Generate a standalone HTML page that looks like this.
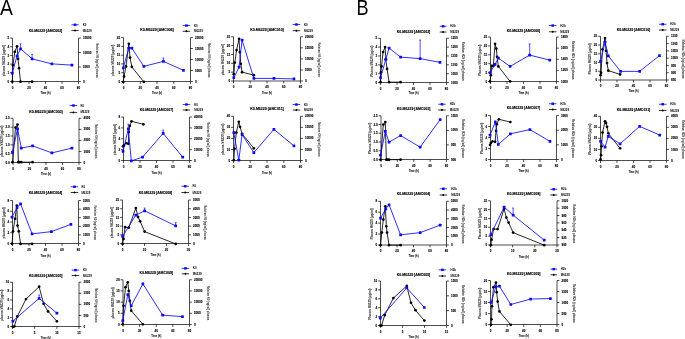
<!DOCTYPE html>
<html><head><meta charset="utf-8"><title>Figure</title>
<style>
html,body{margin:0;padding:0;background:#fff;}
body{width:685px;height:339px;overflow:hidden;font-family:"Liberation Sans",sans-serif;}
svg{display:block;will-change:transform;}
</style></head><body>
<svg width="685" height="339" viewBox="0 0 685 339" font-family="Liberation Sans, sans-serif" font-size="3.0" font-weight="bold" fill="#000" stroke-linejoin="round"><style>text{stroke:#000;stroke-width:0.1px;paint-order:stroke}</style><rect width="685" height="339" fill="#fff"/><text transform="translate(0.03 14.55) scale(0.9 1)" font-size="21.5" font-weight="normal" style="stroke:none">A</text><text transform="translate(356.5 14.65) scale(0.85 1)" font-size="21.3" font-weight="normal" style="stroke:none">B</text><g><path d="M12.5 38.06V81.5" stroke="#000" stroke-width="0.7"/><path d="M12.5 81.5H78.5" stroke="#000" stroke-width="0.7"/><path d="M78.5 38.06V81.5" stroke="#000" stroke-width="0.7"/><path d="M10.1 81.5H12.5M10.1 72.81H12.5M10.1 64.12H12.5M10.1 55.43H12.5M10.1 46.75H12.5M10.1 38.06H12.5" stroke="#000" stroke-width="0.7"/><text x="9.2" y="82.58" text-anchor="end">0</text><text x="9.2" y="73.89" text-anchor="end">1</text><text x="9.2" y="65.2" text-anchor="end">2</text><text x="9.2" y="56.51" text-anchor="end">3</text><text x="9.2" y="47.83" text-anchor="end">4</text><text x="9.2" y="39.14" text-anchor="end">5</text><text x="83" y="82.58">0</text><text x="83" y="68.1">5000</text><text x="83" y="53.62">10000</text><text x="83" y="39.14">15000</text><path d="M78.5 81.5H80.9M78.5 67.02H80.9M78.5 52.54H80.9M78.5 38.06H80.9" stroke="#000" stroke-width="0.7"/><text x="12.5" y="88.58" text-anchor="middle">0</text><text x="29" y="88.58" text-anchor="middle">20</text><text x="45.5" y="88.58" text-anchor="middle">40</text><text x="62" y="88.58" text-anchor="middle">60</text><text x="78.5" y="88.58" text-anchor="middle">80</text><path d="M12.5 81.5V83.9M29 81.5V83.9M45.5 81.5V83.9M62 81.5V83.9M78.5 81.5V83.9" stroke="#000" stroke-width="0.7"/><text x="45.5" y="93.9" text-anchor="middle" font-size="2.8" textLength="10" lengthAdjust="spacingAndGlyphs" style="stroke-width:0.04px">Time (h)</text><text x="45.5" y="32.01" text-anchor="middle" font-weight="bold" font-size="3.4" textLength="33.6" lengthAdjust="spacingAndGlyphs" style="stroke-width:0.12px">K0-M6229 [AMC002]</text><text transform="translate(4.03 60.58) rotate(-90)" text-anchor="middle" y="0.9" font-size="2.6" fill="#444" style="stroke:#444;stroke-width:0.06px" textLength="31.3" lengthAdjust="spacingAndGlyphs">plasma M6229 (μg/ml)</text><text transform="translate(97.04 60.58) rotate(90)" text-anchor="middle" y="0.9" font-size="2.6" fill="#444" style="stroke:#444;stroke-width:0.06px" textLength="34.5" lengthAdjust="spacingAndGlyphs">Relative K0 (ng/ml) plasma</text><path d="M71.43 24.77H78.7" stroke="#0a0aff" stroke-width="0.8"/><rect x="73.76" y="23.57" width="2.6" height="2.4" fill="#0a0aff"/><text x="82.71" y="25.85" style="stroke:none" font-size="2.9">K0</text><path d="M71.43 30.54H78.7" stroke="#000" stroke-width="0.8"/><circle cx="75.06" cy="30.54" r="1"/><text x="82.71" y="31.62" style="stroke:none" font-size="2.9">M6229</text><polyline fill="none" stroke="#000" stroke-width="0.85" points="12.28,81.67 13.03,65.13 14.79,51.84 17.04,46.33 18.05,58.86 19.05,68.13 20.55,81.67 32.08,81.67"/><circle cx="12.28" cy="81.67" r="1.35"/><circle cx="13.03" cy="65.13" r="1.35"/><circle cx="14.79" cy="51.84" r="1.35"/><circle cx="17.04" cy="46.33" r="1.35"/><circle cx="18.05" cy="58.86" r="1.35"/><circle cx="19.05" cy="68.13" r="1.35"/><circle cx="20.55" cy="81.67" r="1.35"/><circle cx="32.08" cy="81.67" r="1.35"/><path d="M20.55 48.83V43.82M19.65 43.82H21.45" stroke="#0a0aff" stroke-width="0.7"/><path d="M32.08 58.86V54.35M31.18 54.35H32.98" stroke="#0a0aff" stroke-width="0.7"/><polyline fill="none" stroke="#0a0aff" stroke-width="0.85" points="12.28,73.15 17.04,55.85 20.55,48.83 32.08,58.86 51.88,63.87 71.93,65.13"/><rect x="10.93" y="71.8" width="2.7" height="2.7" rx="0.5" fill="#0a0aff"/><rect x="15.69" y="54.5" width="2.7" height="2.7" rx="0.5" fill="#0a0aff"/><rect x="19.2" y="47.48" width="2.7" height="2.7" rx="0.5" fill="#0a0aff"/><rect x="30.73" y="57.51" width="2.7" height="2.7" rx="0.5" fill="#0a0aff"/><rect x="50.53" y="62.52" width="2.7" height="2.7" rx="0.5" fill="#0a0aff"/><rect x="70.58" y="63.78" width="2.7" height="2.7" rx="0.5" fill="#0a0aff"/></g>
<g><path d="M123.5 37.56V81.5" stroke="#000" stroke-width="0.7"/><path d="M123.5 81.5H190.5" stroke="#000" stroke-width="0.7"/><path d="M190.5 37.56V81.5" stroke="#000" stroke-width="0.7"/><path d="M121.1 81.5H123.5M121.1 72.71H123.5M121.1 63.92H123.5M121.1 55.13H123.5M121.1 46.35H123.5M121.1 37.56H123.5" stroke="#000" stroke-width="0.7"/><text x="120.2" y="82.58" text-anchor="end">0</text><text x="120.2" y="73.79" text-anchor="end">5</text><text x="120.2" y="65" text-anchor="end">10</text><text x="120.2" y="56.21" text-anchor="end">15</text><text x="120.2" y="47.43" text-anchor="end">20</text><text x="120.2" y="38.64" text-anchor="end">25</text><text x="195" y="82.58">0</text><text x="195" y="71.59">5000</text><text x="195" y="60.61">10000</text><text x="195" y="49.62">15000</text><text x="195" y="38.64">20000</text><path d="M190.5 81.5H192.9M190.5 70.51H192.9M190.5 59.53H192.9M190.5 48.54H192.9M190.5 37.56H192.9" stroke="#000" stroke-width="0.7"/><text x="123.5" y="88.58" text-anchor="middle">0</text><text x="140.25" y="88.58" text-anchor="middle">20</text><text x="157" y="88.58" text-anchor="middle">40</text><text x="173.75" y="88.58" text-anchor="middle">60</text><text x="190.5" y="88.58" text-anchor="middle">80</text><path d="M123.5 81.5V83.9M140.25 81.5V83.9M157 81.5V83.9M173.75 81.5V83.9M190.5 81.5V83.9" stroke="#000" stroke-width="0.7"/><text x="157" y="94.4" text-anchor="middle" font-size="2.8" textLength="10" lengthAdjust="spacingAndGlyphs" style="stroke-width:0.04px">Time (h)</text><text x="157" y="31.26" text-anchor="middle" font-weight="bold" font-size="3.4" textLength="33.6" lengthAdjust="spacingAndGlyphs" style="stroke-width:0.12px">K0-M6229 [AMC006]</text><text transform="translate(113.36 60.33) rotate(-90)" text-anchor="middle" y="0.9" font-size="2.6" fill="#444" style="stroke:#444;stroke-width:0.06px" textLength="31.3" lengthAdjust="spacingAndGlyphs">plasma M6229 (μg/ml)</text><text transform="translate(209.04 60.33) rotate(90)" text-anchor="middle" y="0.9" font-size="2.6" fill="#444" style="stroke:#444;stroke-width:0.06px" textLength="34.5" lengthAdjust="spacingAndGlyphs">Relative K0 (ng/ml) plasma</text><path d="M182.69 25.53H190.21" stroke="#0a0aff" stroke-width="0.8"/><rect x="185.15" y="24.33" width="2.6" height="2.4" fill="#0a0aff"/><text x="193.97" y="26.61" style="stroke:none" font-size="2.9">K0</text><path d="M182.69 31.29H190.21" stroke="#000" stroke-width="0.8"/><circle cx="186.45" cy="31.29" r="1"/><text x="193.97" y="32.37" style="stroke:none" font-size="2.9">M6229</text><polyline fill="none" stroke="#000" stroke-width="0.85" points="123.3,81.92 124.05,76.4 126.05,66.38 128.81,43.82 130.06,57.61 131.82,66.88 143.85,81.92"/><circle cx="123.3" cy="81.92" r="1.35"/><circle cx="124.05" cy="76.4" r="1.35"/><circle cx="126.05" cy="66.38" r="1.35"/><circle cx="128.81" cy="43.82" r="1.35"/><circle cx="130.06" cy="57.61" r="1.35"/><circle cx="131.82" cy="66.88" r="1.35"/><circle cx="143.85" cy="81.92" r="1.35"/><path d="M163.4 61.37V58.11M162.5 58.11H164.3" stroke="#0a0aff" stroke-width="0.7"/><polyline fill="none" stroke="#0a0aff" stroke-width="0.85" points="123.3,67.88 128.81,48.08 131.82,48.08 143.85,66.38 163.4,61.37 183.45,70.39"/><rect x="121.95" y="66.53" width="2.7" height="2.7" rx="0.5" fill="#0a0aff"/><rect x="127.46" y="46.73" width="2.7" height="2.7" rx="0.5" fill="#0a0aff"/><rect x="130.47" y="46.73" width="2.7" height="2.7" rx="0.5" fill="#0a0aff"/><rect x="142.5" y="65.03" width="2.7" height="2.7" rx="0.5" fill="#0a0aff"/><rect x="162.05" y="60.02" width="2.7" height="2.7" rx="0.5" fill="#0a0aff"/><rect x="182.1" y="69.04" width="2.7" height="2.7" rx="0.5" fill="#0a0aff"/></g>
<g><path d="M233.5 36.8V81" stroke="#000" stroke-width="0.7"/><path d="M233.5 81H300.5" stroke="#000" stroke-width="0.7"/><path d="M300.5 36.8V81" stroke="#000" stroke-width="0.7"/><path d="M231.1 81H233.5M231.1 72.16H233.5M231.1 63.32H233.5M231.1 54.48H233.5M231.1 45.64H233.5M231.1 36.8H233.5" stroke="#000" stroke-width="0.7"/><text x="230.2" y="82.08" text-anchor="end">0</text><text x="230.2" y="73.24" text-anchor="end">5</text><text x="230.2" y="64.4" text-anchor="end">10</text><text x="230.2" y="55.56" text-anchor="end">15</text><text x="230.2" y="46.72" text-anchor="end">20</text><text x="230.2" y="37.88" text-anchor="end">25</text><text x="305" y="82.08">0</text><text x="305" y="71.03">5000</text><text x="305" y="59.98">10000</text><text x="305" y="48.93">15000</text><text x="305" y="37.88">20000</text><path d="M300.5 81H302.9M300.5 69.95H302.9M300.5 58.9H302.9M300.5 47.85H302.9M300.5 36.8H302.9" stroke="#000" stroke-width="0.7"/><text x="233.5" y="88.08" text-anchor="middle">0</text><text x="250.25" y="88.08" text-anchor="middle">20</text><text x="267" y="88.08" text-anchor="middle">40</text><text x="283.75" y="88.08" text-anchor="middle">60</text><text x="300.5" y="88.08" text-anchor="middle">80</text><path d="M233.5 81V83.4M250.25 81V83.4M267 81V83.4M283.75 81V83.4M300.5 81V83.4" stroke="#000" stroke-width="0.7"/><text x="267" y="93.65" text-anchor="middle" font-size="2.8" textLength="10" lengthAdjust="spacingAndGlyphs" style="stroke-width:0.04px">Time (h)</text><text x="267" y="30.64" text-anchor="middle" font-weight="bold" font-size="3.4" textLength="33.6" lengthAdjust="spacingAndGlyphs" style="stroke-width:0.12px">K0-M6229 [AMC010]</text><text transform="translate(223.36 59.7) rotate(-90)" text-anchor="middle" y="0.9" font-size="2.6" fill="#444" style="stroke:#444;stroke-width:0.06px" textLength="31.3" lengthAdjust="spacingAndGlyphs">plasma M6229 (μg/ml)</text><text transform="translate(319.04 59.7) rotate(90)" text-anchor="middle" y="0.9" font-size="2.6" fill="#444" style="stroke:#444;stroke-width:0.06px" textLength="34.5" lengthAdjust="spacingAndGlyphs">Relative K0 (ng/ml) plasma</text><path d="M292.69 24.52H300.21" stroke="#0a0aff" stroke-width="0.8"/><rect x="295.15" y="23.32" width="2.6" height="2.4" fill="#0a0aff"/><text x="303.97" y="25.6" style="stroke:none" font-size="2.9">K0</text><path d="M292.69 30.66H300.21" stroke="#000" stroke-width="0.8"/><circle cx="296.45" cy="30.66" r="1"/><text x="303.97" y="31.74" style="stroke:none" font-size="2.9">M6229</text><polyline fill="none" stroke="#000" stroke-width="0.85" points="233.8,74.15 234.8,62.62 236.55,50.09 239.06,38.81 239.81,52.09 240.81,63.87 242.07,72.14 253.85,75.15"/><circle cx="233.8" cy="74.15" r="1.35"/><circle cx="234.8" cy="62.62" r="1.35"/><circle cx="236.55" cy="50.09" r="1.35"/><circle cx="239.06" cy="38.81" r="1.35"/><circle cx="239.81" cy="52.09" r="1.35"/><circle cx="240.81" cy="63.87" r="1.35"/><circle cx="242.07" cy="72.14" r="1.35"/><circle cx="253.85" cy="75.15" r="1.35"/><polyline fill="none" stroke="#0a0aff" stroke-width="0.85" points="233.8,77.66 239.06,67.13 242.07,40.06 253.85,78.41 273.9,78.41 293.95,78.91"/><rect x="232.45" y="76.31" width="2.7" height="2.7" rx="0.5" fill="#0a0aff"/><rect x="237.71" y="65.78" width="2.7" height="2.7" rx="0.5" fill="#0a0aff"/><rect x="240.72" y="38.71" width="2.7" height="2.7" rx="0.5" fill="#0a0aff"/><rect x="252.5" y="77.06" width="2.7" height="2.7" rx="0.5" fill="#0a0aff"/><rect x="272.55" y="77.06" width="2.7" height="2.7" rx="0.5" fill="#0a0aff"/><rect x="292.6" y="77.56" width="2.7" height="2.7" rx="0.5" fill="#0a0aff"/></g>
<g><path d="M13 118.3V162.5" stroke="#000" stroke-width="0.7"/><path d="M13 162.5H79" stroke="#000" stroke-width="0.7"/><path d="M79 118.3V162.5" stroke="#000" stroke-width="0.7"/><path d="M10.6 162.5H13M10.6 153.66H13M10.6 144.82H13M10.6 135.98H13M10.6 127.14H13M10.6 118.3H13" stroke="#000" stroke-width="0.7"/><text x="9.7" y="163.58" text-anchor="end">0.0</text><text x="9.7" y="154.74" text-anchor="end">0.5</text><text x="9.7" y="145.9" text-anchor="end">1.0</text><text x="9.7" y="137.06" text-anchor="end">1.5</text><text x="9.7" y="128.22" text-anchor="end">2.0</text><text x="9.7" y="119.38" text-anchor="end">2.5</text><text x="83.5" y="163.58">0</text><text x="83.5" y="152.53">1000</text><text x="83.5" y="141.48">2000</text><text x="83.5" y="130.43">3000</text><text x="83.5" y="119.38">4000</text><path d="M79 162.5H81.4M79 151.45H81.4M79 140.4H81.4M79 129.35H81.4M79 118.3H81.4" stroke="#000" stroke-width="0.7"/><text x="13" y="169.58" text-anchor="middle">0</text><text x="29.5" y="169.58" text-anchor="middle">20</text><text x="46" y="169.58" text-anchor="middle">40</text><text x="62.5" y="169.58" text-anchor="middle">60</text><text x="79" y="169.58" text-anchor="middle">80</text><path d="M13 162.5V164.9M29.5 162.5V164.9M46 162.5V164.9M62.5 162.5V164.9M79 162.5V164.9" stroke="#000" stroke-width="0.7"/><text x="46" y="174.89" text-anchor="middle" font-size="2.8" textLength="10" lengthAdjust="spacingAndGlyphs" style="stroke-width:0.04px">Time (h)</text><text x="46" y="113" text-anchor="middle" font-weight="bold" font-size="3.4" textLength="33.6" lengthAdjust="spacingAndGlyphs" style="stroke-width:0.12px">K0-M6229 [AMC003]</text><text transform="translate(2.03 141.2) rotate(-90)" text-anchor="middle" y="0.9" font-size="2.6" fill="#444" style="stroke:#444;stroke-width:0.06px" textLength="31.3" lengthAdjust="spacingAndGlyphs">plasma M6229 (μg/ml)</text><text transform="translate(95.87 141.2) rotate(90)" text-anchor="middle" y="0.9" font-size="2.6" fill="#444" style="stroke:#444;stroke-width:0.06px" textLength="34.5" lengthAdjust="spacingAndGlyphs">Relative K0 (ng/ml) plasma</text><path d="M69.67 105.51H77.19" stroke="#0a0aff" stroke-width="0.8"/><rect x="72.13" y="104.31" width="2.6" height="2.4" fill="#0a0aff"/><text x="80.45" y="106.59" style="stroke:none" font-size="2.9">K0</text><path d="M69.67 112.41H77.19" stroke="#000" stroke-width="0.8"/><circle cx="73.43" cy="112.41" r="1"/><text x="80.45" y="113.49" style="stroke:none" font-size="2.9">M6229</text><polyline fill="none" stroke="#000" stroke-width="0.85" points="12.53,162.16 15.54,127.57 17.54,124.56 18.3,162.16 19.55,162.16 21.3,162.16 32.58,162.16"/><circle cx="12.53" cy="162.16" r="1.35"/><circle cx="15.54" cy="127.57" r="1.35"/><circle cx="17.54" cy="124.56" r="1.35"/><circle cx="18.3" cy="162.16" r="1.35"/><circle cx="19.55" cy="162.16" r="1.35"/><circle cx="21.3" cy="162.16" r="1.35"/><circle cx="32.58" cy="162.16" r="1.35"/><polyline fill="none" stroke="#0a0aff" stroke-width="0.85" points="12.53,152.13 17.54,128.82 21.3,148.12 32.58,145.86 51.88,152.88 71.93,148.12"/><rect x="11.18" y="150.78" width="2.7" height="2.7" rx="0.5" fill="#0a0aff"/><rect x="16.19" y="127.47" width="2.7" height="2.7" rx="0.5" fill="#0a0aff"/><rect x="19.95" y="146.77" width="2.7" height="2.7" rx="0.5" fill="#0a0aff"/><rect x="31.23" y="144.51" width="2.7" height="2.7" rx="0.5" fill="#0a0aff"/><rect x="50.53" y="151.53" width="2.7" height="2.7" rx="0.5" fill="#0a0aff"/><rect x="70.58" y="146.77" width="2.7" height="2.7" rx="0.5" fill="#0a0aff"/></g>
<g><path d="M123.5 117.04V160.5" stroke="#000" stroke-width="0.7"/><path d="M123.5 160.5H189.5" stroke="#000" stroke-width="0.7"/><path d="M189.5 117.04V160.5" stroke="#000" stroke-width="0.7"/><path d="M121.1 160.5H123.5M121.1 149.64H123.5M121.1 138.77H123.5M121.1 127.91H123.5M121.1 117.04H123.5" stroke="#000" stroke-width="0.7"/><text x="120.2" y="161.58" text-anchor="end">0</text><text x="120.2" y="150.72" text-anchor="end">2</text><text x="120.2" y="139.85" text-anchor="end">4</text><text x="120.2" y="128.99" text-anchor="end">6</text><text x="120.2" y="118.12" text-anchor="end">8</text><text x="194" y="161.58">0</text><text x="194" y="150.72">10000</text><text x="194" y="139.85">20000</text><text x="194" y="128.99">30000</text><text x="194" y="118.12">40000</text><path d="M189.5 160.5H191.9M189.5 149.64H191.9M189.5 138.77H191.9M189.5 127.91H191.9M189.5 117.04H191.9" stroke="#000" stroke-width="0.7"/><text x="123.5" y="167.58" text-anchor="middle">0</text><text x="140" y="167.58" text-anchor="middle">20</text><text x="156.5" y="167.58" text-anchor="middle">40</text><text x="173" y="167.58" text-anchor="middle">60</text><text x="189.5" y="167.58" text-anchor="middle">80</text><path d="M123.5 160.5V162.9M140 160.5V162.9M156.5 160.5V162.9M173 160.5V162.9M189.5 160.5V162.9" stroke="#000" stroke-width="0.7"/><text x="156.5" y="173.64" text-anchor="middle" font-size="2.8" textLength="10" lengthAdjust="spacingAndGlyphs" style="stroke-width:0.04px">Time (h)</text><text x="156.5" y="111.25" text-anchor="middle" font-weight="bold" font-size="3.4" textLength="33.6" lengthAdjust="spacingAndGlyphs" style="stroke-width:0.12px">K0-M6229 [AMC007]</text><text transform="translate(115.03 139.57) rotate(-90)" text-anchor="middle" y="0.9" font-size="2.6" fill="#444" style="stroke:#444;stroke-width:0.06px" textLength="31.3" lengthAdjust="spacingAndGlyphs">plasma M6229 (μg/ml)</text><text transform="translate(208.04 139.57) rotate(90)" text-anchor="middle" y="0.9" font-size="2.6" fill="#444" style="stroke:#444;stroke-width:0.06px" textLength="34.5" lengthAdjust="spacingAndGlyphs">Relative K0 (ng/ml) plasma</text><path d="M182.69 104.51H190.21" stroke="#0a0aff" stroke-width="0.8"/><rect x="185.15" y="103.31" width="2.6" height="2.4" fill="#0a0aff"/><text x="194.22" y="105.59" style="stroke:none" font-size="2.9">K0</text><path d="M182.69 110.03H190.21" stroke="#000" stroke-width="0.8"/><circle cx="186.45" cy="110.03" r="1"/><text x="194.22" y="111.11" style="stroke:none" font-size="2.9">M6229</text><polyline fill="none" stroke="#000" stroke-width="0.85" points="123.05,146.37 124.05,145.11 126.3,143.11 128.31,143.86 128.81,132.08 129.81,125.81 131.57,121.3 143.35,124.31"/><circle cx="123.05" cy="146.37" r="1.35"/><circle cx="124.05" cy="145.11" r="1.35"/><circle cx="126.3" cy="143.11" r="1.35"/><circle cx="128.31" cy="143.86" r="1.35"/><circle cx="128.81" cy="132.08" r="1.35"/><circle cx="129.81" cy="125.81" r="1.35"/><circle cx="131.57" cy="121.3" r="1.35"/><circle cx="143.35" cy="124.31" r="1.35"/><path d="M128.31 128.82V124.31M127.41 124.31H129.21" stroke="#0a0aff" stroke-width="0.7"/><path d="M163.15 133.33V130.08M162.25 130.08H164.05" stroke="#0a0aff" stroke-width="0.7"/><polyline fill="none" stroke="#0a0aff" stroke-width="0.85" points="123.05,151.38 128.31,128.82 131.32,160.9 142.59,157.14 163.15,133.33 182.69,157.14"/><rect x="121.7" y="150.03" width="2.7" height="2.7" rx="0.5" fill="#0a0aff"/><rect x="126.96" y="127.47" width="2.7" height="2.7" rx="0.5" fill="#0a0aff"/><rect x="129.97" y="159.55" width="2.7" height="2.7" rx="0.5" fill="#0a0aff"/><rect x="141.24" y="155.79" width="2.7" height="2.7" rx="0.5" fill="#0a0aff"/><rect x="161.8" y="131.98" width="2.7" height="2.7" rx="0.5" fill="#0a0aff"/><rect x="181.34" y="155.79" width="2.7" height="2.7" rx="0.5" fill="#0a0aff"/></g>
<g><path d="M233.5 116.29V160.5" stroke="#000" stroke-width="0.7"/><path d="M233.5 160.5H300.5" stroke="#000" stroke-width="0.7"/><path d="M300.5 116.29V160.5" stroke="#000" stroke-width="0.7"/><path d="M231.1 160.5H233.5M231.1 149.45H233.5M231.1 138.4H233.5M231.1 127.34H233.5M231.1 116.29H233.5" stroke="#000" stroke-width="0.7"/><text x="230.2" y="161.58" text-anchor="end">0</text><text x="230.2" y="150.53" text-anchor="end">10</text><text x="230.2" y="139.48" text-anchor="end">20</text><text x="230.2" y="128.42" text-anchor="end">30</text><text x="230.2" y="117.37" text-anchor="end">40</text><text x="305" y="161.58">0</text><text x="305" y="150.53">5000</text><text x="305" y="139.48">10000</text><text x="305" y="128.42">15000</text><text x="305" y="117.37">20000</text><path d="M300.5 160.5H302.9M300.5 149.45H302.9M300.5 138.4H302.9M300.5 127.34H302.9M300.5 116.29H302.9" stroke="#000" stroke-width="0.7"/><text x="233.5" y="167.58" text-anchor="middle">0</text><text x="250.25" y="167.58" text-anchor="middle">20</text><text x="267" y="167.58" text-anchor="middle">40</text><text x="283.75" y="167.58" text-anchor="middle">60</text><text x="300.5" y="167.58" text-anchor="middle">80</text><path d="M233.5 160.5V162.9M250.25 160.5V162.9M267 160.5V162.9M283.75 160.5V162.9M300.5 160.5V162.9" stroke="#000" stroke-width="0.7"/><text x="267" y="173.64" text-anchor="middle" font-size="2.8" textLength="10" lengthAdjust="spacingAndGlyphs" style="stroke-width:0.04px">Time (h)</text><text x="267" y="110.25" text-anchor="middle" font-weight="bold" font-size="3.4" textLength="33.6" lengthAdjust="spacingAndGlyphs" style="stroke-width:0.12px">K0-M6229 [AMC011]</text><text transform="translate(223.36 139.2) rotate(-90)" text-anchor="middle" y="0.9" font-size="2.6" fill="#444" style="stroke:#444;stroke-width:0.06px" textLength="31.3" lengthAdjust="spacingAndGlyphs">plasma M6229 (μg/ml)</text><text transform="translate(319.04 139.2) rotate(90)" text-anchor="middle" y="0.9" font-size="2.6" fill="#444" style="stroke:#444;stroke-width:0.06px" textLength="34.5" lengthAdjust="spacingAndGlyphs">Relative K0 (ng/ml) plasma</text><path d="M292.69 104.51H300.21" stroke="#0a0aff" stroke-width="0.8"/><rect x="295.15" y="103.31" width="2.6" height="2.4" fill="#0a0aff"/><text x="303.97" y="105.59" style="stroke:none" font-size="2.9">K0</text><path d="M292.69 110.03H300.21" stroke="#000" stroke-width="0.8"/><circle cx="296.45" cy="110.03" r="1"/><text x="303.97" y="111.11" style="stroke:none" font-size="2.9">M6229</text><polyline fill="none" stroke="#000" stroke-width="0.85" points="233.8,160.15 234.55,148.87 236.3,132.58 238.81,121.8 240.06,126.82 242.07,133.83 253.85,148.37"/><circle cx="233.8" cy="160.15" r="1.35"/><circle cx="234.55" cy="148.87" r="1.35"/><circle cx="236.3" cy="132.58" r="1.35"/><circle cx="238.81" cy="121.8" r="1.35"/><circle cx="240.06" cy="126.82" r="1.35"/><circle cx="242.07" cy="133.83" r="1.35"/><circle cx="253.85" cy="148.37" r="1.35"/><polyline fill="none" stroke="#0a0aff" stroke-width="0.85" points="233.8,132.58 238.81,160.15 242.07,134.59 253.85,152.63 273.9,129.32 293.95,145.86"/><rect x="232.45" y="131.23" width="2.7" height="2.7" rx="0.5" fill="#0a0aff"/><rect x="237.46" y="158.8" width="2.7" height="2.7" rx="0.5" fill="#0a0aff"/><rect x="240.72" y="133.24" width="2.7" height="2.7" rx="0.5" fill="#0a0aff"/><rect x="252.5" y="151.28" width="2.7" height="2.7" rx="0.5" fill="#0a0aff"/><rect x="272.55" y="127.97" width="2.7" height="2.7" rx="0.5" fill="#0a0aff"/><rect x="292.6" y="144.51" width="2.7" height="2.7" rx="0.5" fill="#0a0aff"/></g>
<g><path d="M12.5 200.54V243.5" stroke="#000" stroke-width="0.7"/><path d="M12.5 243.5H78.5" stroke="#000" stroke-width="0.7"/><path d="M78.5 200.54V243.5" stroke="#000" stroke-width="0.7"/><path d="M10.1 243.5H12.5M10.1 232.76H12.5M10.1 222.02H12.5M10.1 211.28H12.5M10.1 200.54H12.5" stroke="#000" stroke-width="0.7"/><text x="9.2" y="244.58" text-anchor="end">0</text><text x="9.2" y="233.84" text-anchor="end">2</text><text x="9.2" y="223.1" text-anchor="end">4</text><text x="9.2" y="212.36" text-anchor="end">6</text><text x="9.2" y="201.62" text-anchor="end">8</text><text x="83" y="244.58">0</text><text x="83" y="235.99">1000</text><text x="83" y="227.4">2000</text><text x="83" y="218.8">3000</text><text x="83" y="210.21">4000</text><text x="83" y="201.62">5000</text><path d="M78.5 243.5H80.9M78.5 234.91H80.9M78.5 226.32H80.9M78.5 217.72H80.9M78.5 209.13H80.9M78.5 200.54H80.9" stroke="#000" stroke-width="0.7"/><text x="12.5" y="250.58" text-anchor="middle">0</text><text x="29" y="250.58" text-anchor="middle">20</text><text x="45.5" y="250.58" text-anchor="middle">40</text><text x="62" y="250.58" text-anchor="middle">60</text><text x="78.5" y="250.58" text-anchor="middle">80</text><path d="M12.5 243.5V245.9M29 243.5V245.9M45.5 243.5V245.9M62 243.5V245.9M78.5 243.5V245.9" stroke="#000" stroke-width="0.7"/><text x="45.5" y="256.63" text-anchor="middle" font-size="2.8" textLength="10" lengthAdjust="spacingAndGlyphs" style="stroke-width:0.04px">Time (h)</text><text x="45.5" y="194.24" text-anchor="middle" font-weight="bold" font-size="3.4" textLength="33.6" lengthAdjust="spacingAndGlyphs" style="stroke-width:0.12px">K0-M6229 [AMC004]</text><text transform="translate(4.03 222.82) rotate(-90)" text-anchor="middle" y="0.9" font-size="2.6" fill="#444" style="stroke:#444;stroke-width:0.06px" textLength="31.3" lengthAdjust="spacingAndGlyphs">plasma M6229 (μg/ml)</text><text transform="translate(95.37 222.82) rotate(90)" text-anchor="middle" y="0.9" font-size="2.6" fill="#444" style="stroke:#444;stroke-width:0.06px" textLength="34.5" lengthAdjust="spacingAndGlyphs">Relative K0 (ng/ml) plasma</text><path d="M70.68 186.75H78.2" stroke="#0a0aff" stroke-width="0.8"/><rect x="73.14" y="185.55" width="2.6" height="2.4" fill="#0a0aff"/><text x="81.45" y="187.83" style="stroke:none" font-size="2.9">K0</text><path d="M70.68 192.52H78.2" stroke="#000" stroke-width="0.8"/><circle cx="74.44" cy="192.52" r="1"/><text x="81.45" y="193.6" style="stroke:none" font-size="2.9">M6229</text><polyline fill="none" stroke="#000" stroke-width="0.85" points="12.03,243.9 13.03,231.37 15.04,218.83 16.79,205.55 17.54,225.6 18.8,231.37 20.55,243.9 32.08,243.9"/><circle cx="12.03" cy="243.9" r="1.35"/><circle cx="13.03" cy="231.37" r="1.35"/><circle cx="15.04" cy="218.83" r="1.35"/><circle cx="16.79" cy="205.55" r="1.35"/><circle cx="17.54" cy="225.6" r="1.35"/><circle cx="18.8" cy="231.37" r="1.35"/><circle cx="20.55" cy="243.9" r="1.35"/><circle cx="32.08" cy="243.9" r="1.35"/><polyline fill="none" stroke="#0a0aff" stroke-width="0.85" points="12.03,217.08 17.04,207.56 20.55,203.8 32.08,233.87 51.38,231.62 70.93,224.35"/><rect x="10.68" y="215.73" width="2.7" height="2.7" rx="0.5" fill="#0a0aff"/><rect x="15.69" y="206.21" width="2.7" height="2.7" rx="0.5" fill="#0a0aff"/><rect x="19.2" y="202.45" width="2.7" height="2.7" rx="0.5" fill="#0a0aff"/><rect x="30.73" y="232.52" width="2.7" height="2.7" rx="0.5" fill="#0a0aff"/><rect x="50.03" y="230.27" width="2.7" height="2.7" rx="0.5" fill="#0a0aff"/><rect x="69.58" y="223" width="2.7" height="2.7" rx="0.5" fill="#0a0aff"/></g>
<g><path d="M122.5 200.04V243.5" stroke="#000" stroke-width="0.7"/><path d="M122.5 243.5H188.5" stroke="#000" stroke-width="0.7"/><path d="M188.5 200.04V243.5" stroke="#000" stroke-width="0.7"/><path d="M120.1 243.5H122.5M120.1 234.81H122.5M120.1 226.12H122.5M120.1 217.42H122.5M120.1 208.73H122.5M120.1 200.04H122.5" stroke="#000" stroke-width="0.7"/><text x="119.2" y="244.58" text-anchor="end">0</text><text x="119.2" y="235.89" text-anchor="end">5</text><text x="119.2" y="227.2" text-anchor="end">10</text><text x="119.2" y="218.5" text-anchor="end">15</text><text x="119.2" y="209.81" text-anchor="end">20</text><text x="119.2" y="201.12" text-anchor="end">25</text><text x="193" y="244.58">0</text><text x="193" y="235.89">1000</text><text x="193" y="227.2">2000</text><text x="193" y="218.5">3000</text><text x="193" y="209.81">4000</text><text x="193" y="201.12">5000</text><path d="M188.5 243.5H190.9M188.5 234.81H190.9M188.5 226.12H190.9M188.5 217.42H190.9M188.5 208.73H190.9M188.5 200.04H190.9" stroke="#000" stroke-width="0.7"/><text x="122.5" y="250.58" text-anchor="middle">0</text><text x="144.5" y="250.58" text-anchor="middle">10</text><text x="166.5" y="250.58" text-anchor="middle">20</text><text x="188.5" y="250.58" text-anchor="middle">30</text><path d="M122.5 243.5V245.9M144.5 243.5V245.9M166.5 243.5V245.9M188.5 243.5V245.9" stroke="#000" stroke-width="0.7"/><text x="155.5" y="256.13" text-anchor="middle" font-size="2.8" textLength="10" lengthAdjust="spacingAndGlyphs" style="stroke-width:0.04px">Time (h)</text><text x="155.5" y="193.74" text-anchor="middle" font-weight="bold" font-size="3.4" textLength="33.6" lengthAdjust="spacingAndGlyphs" style="stroke-width:0.12px">K0-M6229 [AMC008]</text><text transform="translate(112.36 222.57) rotate(-90)" text-anchor="middle" y="0.9" font-size="2.6" fill="#444" style="stroke:#444;stroke-width:0.06px" textLength="31.3" lengthAdjust="spacingAndGlyphs">plasma M6229 (μg/ml)</text><text transform="translate(205.37 222.57) rotate(90)" text-anchor="middle" y="0.9" font-size="2.6" fill="#444" style="stroke:#444;stroke-width:0.06px" textLength="34.5" lengthAdjust="spacingAndGlyphs">Relative K0 (ng/ml) plasma</text><path d="M181.44 186.25H188.96" stroke="#0a0aff" stroke-width="0.8"/><rect x="183.9" y="185.05" width="2.6" height="2.4" fill="#0a0aff"/><text x="192.47" y="187.33" style="stroke:none" font-size="2.9">K0</text><path d="M181.44 192.52H188.96" stroke="#000" stroke-width="0.8"/><circle cx="185.2" cy="192.52" r="1"/><text x="192.47" y="193.6" style="stroke:none" font-size="2.9">M6229</text><polyline fill="none" stroke="#000" stroke-width="0.85" points="122.54,243.9 123.55,238.88 125.05,227.11 128.81,227.61 135.83,208.06 138.08,217.08 140.09,221.34 144.6,231.62 175.68,243.9"/><circle cx="122.54" cy="243.9" r="1.35"/><circle cx="123.55" cy="238.88" r="1.35"/><circle cx="125.05" cy="227.11" r="1.35"/><circle cx="128.81" cy="227.61" r="1.35"/><circle cx="135.83" cy="208.06" r="1.35"/><circle cx="138.08" cy="217.08" r="1.35"/><circle cx="140.09" cy="221.34" r="1.35"/><circle cx="144.6" cy="231.62" r="1.35"/><circle cx="175.68" cy="243.9" r="1.35"/><path d="M144.6 210.81V208.06M143.7 208.06H145.5" stroke="#0a0aff" stroke-width="0.7"/><path d="M175.68 225.85V222.59M174.78 222.59H176.58" stroke="#0a0aff" stroke-width="0.7"/><polyline fill="none" stroke="#0a0aff" stroke-width="0.85" points="122.54,236.38 135.83,215.08 144.6,210.81 175.68,225.85"/><rect x="121.19" y="235.03" width="2.7" height="2.7" rx="0.5" fill="#0a0aff"/><rect x="134.48" y="213.73" width="2.7" height="2.7" rx="0.5" fill="#0a0aff"/><rect x="143.25" y="209.46" width="2.7" height="2.7" rx="0.5" fill="#0a0aff"/><rect x="174.33" y="224.5" width="2.7" height="2.7" rx="0.5" fill="#0a0aff"/></g>
<g><path d="M12.5 282.23V326.5" stroke="#000" stroke-width="0.7"/><path d="M12.5 326.5H79" stroke="#000" stroke-width="0.7"/><path d="M79 282.23V326.5" stroke="#000" stroke-width="0.7"/><path d="M10.1 326.5H12.5M10.1 317.65H12.5M10.1 308.79H12.5M10.1 299.94H12.5M10.1 291.08H12.5M10.1 282.23H12.5" stroke="#000" stroke-width="0.7"/><text x="9.2" y="327.58" text-anchor="end">0</text><text x="9.2" y="318.73" text-anchor="end">2</text><text x="9.2" y="309.87" text-anchor="end">4</text><text x="9.2" y="301.02" text-anchor="end">6</text><text x="9.2" y="292.16" text-anchor="end">8</text><text x="9.2" y="283.31" text-anchor="end">10</text><text x="83.5" y="327.58">0</text><text x="83.5" y="316.51">500</text><text x="83.5" y="305.44">1000</text><text x="83.5" y="294.38">1500</text><text x="83.5" y="283.31">2000</text><path d="M79 326.5H81.4M79 315.43H81.4M79 304.36H81.4M79 293.3H81.4M79 282.23H81.4" stroke="#000" stroke-width="0.7"/><text x="12.5" y="333.58" text-anchor="middle">0</text><text x="34.67" y="333.58" text-anchor="middle">5</text><text x="56.83" y="333.58" text-anchor="middle">10</text><text x="79" y="333.58" text-anchor="middle">15</text><path d="M12.5 326.5V328.9M34.67 326.5V328.9M56.83 326.5V328.9M79 326.5V328.9" stroke="#000" stroke-width="0.7"/><text x="45.75" y="339.39" text-anchor="middle" font-size="2.8" textLength="10" lengthAdjust="spacingAndGlyphs" style="stroke-width:0.04px">Time (h)</text><text x="45.75" y="276.77" text-anchor="middle" font-weight="bold" font-size="3.4" textLength="33.6" lengthAdjust="spacingAndGlyphs" style="stroke-width:0.12px">K0-M6229 [AMC005]</text><text transform="translate(2.36 305.16) rotate(-90)" text-anchor="middle" y="0.9" font-size="2.6" fill="#444" style="stroke:#444;stroke-width:0.06px" textLength="31.3" lengthAdjust="spacingAndGlyphs">plasma M6229 (μg/ml)</text><text transform="translate(95.87 305.16) rotate(90)" text-anchor="middle" y="0.9" font-size="2.6" fill="#444" style="stroke:#444;stroke-width:0.06px" textLength="34.5" lengthAdjust="spacingAndGlyphs">Relative K0 (ng/ml) plasma</text><path d="M71.78 270.1H79.21" stroke="#0a0aff" stroke-width="0.8"/><rect x="74.2" y="268.9" width="2.6" height="2.4" fill="#0a0aff"/><text x="82.92" y="271.18" style="stroke:none" font-size="2.9">K0</text><path d="M71.78 275.54H79.21" stroke="#000" stroke-width="0.8"/><circle cx="75.5" cy="275.54" r="1"/><text x="82.92" y="276.62" style="stroke:none" font-size="2.9">M6229</text><polyline fill="none" stroke="#000" stroke-width="0.85" points="12.87,326.78 14.36,326.29 17.33,316.39 25.99,299.06 39.11,286.68 43.56,303.76 48.02,311.44 56.93,321.34"/><circle cx="12.87" cy="326.78" r="1.35"/><circle cx="14.36" cy="326.29" r="1.35"/><circle cx="17.33" cy="316.39" r="1.35"/><circle cx="25.99" cy="299.06" r="1.35"/><circle cx="39.11" cy="286.68" r="1.35"/><circle cx="43.56" cy="303.76" r="1.35"/><circle cx="48.02" cy="311.44" r="1.35"/><circle cx="56.93" cy="321.34" r="1.35"/><path d="M39.11 298.32V295.1M38.21 295.1H40.01" stroke="#0a0aff" stroke-width="0.7"/><polyline fill="none" stroke="#0a0aff" stroke-width="0.85" points="12.87,321.09 39.11,298.32 56.93,313.17"/><rect x="11.52" y="319.74" width="2.7" height="2.7" rx="0.5" fill="#0a0aff"/><rect x="37.76" y="296.97" width="2.7" height="2.7" rx="0.5" fill="#0a0aff"/><rect x="55.58" y="311.82" width="2.7" height="2.7" rx="0.5" fill="#0a0aff"/></g>
<g><path d="M123 279.75V324.5" stroke="#000" stroke-width="0.7"/><path d="M123 324.5H189.5" stroke="#000" stroke-width="0.7"/><path d="M189.5 279.75V324.5" stroke="#000" stroke-width="0.7"/><path d="M120.6 324.5H123M120.6 313.31H123M120.6 302.13H123M120.6 290.94H123M120.6 279.75H123" stroke="#000" stroke-width="0.7"/><text x="119.7" y="325.58" text-anchor="end">0</text><text x="119.7" y="314.39" text-anchor="end">5</text><text x="119.7" y="303.21" text-anchor="end">10</text><text x="119.7" y="292.02" text-anchor="end">15</text><text x="119.7" y="280.83" text-anchor="end">20</text><text x="194" y="325.58">0</text><text x="194" y="314.39">5000</text><text x="194" y="303.21">10000</text><text x="194" y="292.02">15000</text><text x="194" y="280.83">20000</text><path d="M189.5 324.5H191.9M189.5 313.31H191.9M189.5 302.13H191.9M189.5 290.94H191.9M189.5 279.75H191.9" stroke="#000" stroke-width="0.7"/><text x="123" y="331.58" text-anchor="middle">0</text><text x="139.62" y="331.58" text-anchor="middle">20</text><text x="156.25" y="331.58" text-anchor="middle">40</text><text x="172.88" y="331.58" text-anchor="middle">60</text><text x="189.5" y="331.58" text-anchor="middle">80</text><path d="M123 324.5V326.9M139.62 324.5V326.9M156.25 324.5V326.9M172.88 324.5V326.9M189.5 324.5V326.9" stroke="#000" stroke-width="0.7"/><text x="156.25" y="336.91" text-anchor="middle" font-size="2.8" textLength="10" lengthAdjust="spacingAndGlyphs" style="stroke-width:0.04px">Time (h)</text><text x="156.25" y="274.29" text-anchor="middle" font-weight="bold" font-size="3.4" textLength="33.6" lengthAdjust="spacingAndGlyphs" style="stroke-width:0.12px">K0-M6229 [AMC009]</text><text transform="translate(112.86 302.93) rotate(-90)" text-anchor="middle" y="0.9" font-size="2.6" fill="#444" style="stroke:#444;stroke-width:0.06px" textLength="31.3" lengthAdjust="spacingAndGlyphs">plasma M6229 (μg/ml)</text><text transform="translate(208.04 302.93) rotate(90)" text-anchor="middle" y="0.9" font-size="2.6" fill="#444" style="stroke:#444;stroke-width:0.06px" textLength="34.5" lengthAdjust="spacingAndGlyphs">Relative K0 (ng/ml) plasma</text><path d="M181.73 268.37H189.16" stroke="#0a0aff" stroke-width="0.8"/><rect x="184.15" y="267.17" width="2.6" height="2.4" fill="#0a0aff"/><text x="192.87" y="269.45" style="stroke:none" font-size="2.9">K0</text><path d="M181.73 273.81H189.16" stroke="#000" stroke-width="0.8"/><circle cx="185.45" cy="273.81" r="1"/><text x="192.87" y="274.89" style="stroke:none" font-size="2.9">M6229</text><polyline fill="none" stroke="#000" stroke-width="0.85" points="122.82,324.31 123.56,305.74 125.54,287.18 127.77,282.23 128.76,290.89 129.75,300.79 131.24,310.69 142.87,324.31"/><circle cx="122.82" cy="324.31" r="1.35"/><circle cx="123.56" cy="305.74" r="1.35"/><circle cx="125.54" cy="287.18" r="1.35"/><circle cx="127.77" cy="282.23" r="1.35"/><circle cx="128.76" cy="290.89" r="1.35"/><circle cx="129.75" cy="300.79" r="1.35"/><circle cx="131.24" cy="310.69" r="1.35"/><circle cx="142.87" cy="324.31" r="1.35"/><polyline fill="none" stroke="#0a0aff" stroke-width="0.85" points="122.82,320.59 127.77,294.6 131.24,305.74 142.87,283.96 162.67,315.15 182.48,316.63"/><rect x="121.47" y="319.24" width="2.7" height="2.7" rx="0.5" fill="#0a0aff"/><rect x="126.42" y="293.25" width="2.7" height="2.7" rx="0.5" fill="#0a0aff"/><rect x="129.89" y="304.39" width="2.7" height="2.7" rx="0.5" fill="#0a0aff"/><rect x="141.52" y="282.61" width="2.7" height="2.7" rx="0.5" fill="#0a0aff"/><rect x="161.32" y="313.8" width="2.7" height="2.7" rx="0.5" fill="#0a0aff"/><rect x="181.13" y="315.28" width="2.7" height="2.7" rx="0.5" fill="#0a0aff"/></g>
<g><path d="M380.5 38.31V82.5" stroke="#000" stroke-width="0.7"/><path d="M380.5 82.5H446.5" stroke="#000" stroke-width="0.7"/><path d="M446.5 38.31V82.5" stroke="#000" stroke-width="0.7"/><path d="M378.1 82.5H380.5M378.1 73.66H380.5M378.1 64.82H380.5M378.1 55.98H380.5M378.1 47.15H380.5M378.1 38.31H380.5" stroke="#000" stroke-width="0.7"/><text x="377.2" y="83.58" text-anchor="end">0</text><text x="377.2" y="74.74" text-anchor="end">1</text><text x="377.2" y="65.9" text-anchor="end">2</text><text x="377.2" y="57.06" text-anchor="end">3</text><text x="377.2" y="48.23" text-anchor="end">4</text><text x="377.2" y="39.39" text-anchor="end">5</text><text x="451" y="83.58">1000</text><text x="451" y="74.74">1050</text><text x="451" y="65.9">1100</text><text x="451" y="57.06">1150</text><text x="451" y="48.23">1200</text><text x="451" y="39.39">1250</text><path d="M446.5 82.5H448.9M446.5 73.66H448.9M446.5 64.82H448.9M446.5 55.98H448.9M446.5 47.15H448.9M446.5 38.31H448.9" stroke="#000" stroke-width="0.7"/><text x="380.5" y="89.58" text-anchor="middle">0</text><text x="397" y="89.58" text-anchor="middle">20</text><text x="413.5" y="89.58" text-anchor="middle">40</text><text x="430" y="89.58" text-anchor="middle">60</text><text x="446.5" y="89.58" text-anchor="middle">80</text><path d="M380.5 82.5V84.9M397 82.5V84.9M413.5 82.5V84.9M430 82.5V84.9M446.5 82.5V84.9" stroke="#000" stroke-width="0.7"/><text x="413.5" y="94.4" text-anchor="middle" font-size="2.8" textLength="10" lengthAdjust="spacingAndGlyphs" style="stroke-width:0.04px">Time (h)</text><text x="413.5" y="32.51" text-anchor="middle" font-weight="bold" font-size="3.4" textLength="33.6" lengthAdjust="spacingAndGlyphs" style="stroke-width:0.12px">K0-M6229 [AMC002]</text><text transform="translate(372.03 61.2) rotate(-90)" text-anchor="middle" y="0.9" font-size="2.6" fill="#444" style="stroke:#444;stroke-width:0.06px" textLength="31.3" lengthAdjust="spacingAndGlyphs">Plasma M6229 (μg/ml)</text><text transform="translate(463.37 61.2) rotate(90)" text-anchor="middle" y="0.9" font-size="2.6" fill="#444" style="stroke:#444;stroke-width:0.06px" textLength="38.7" lengthAdjust="spacingAndGlyphs">Relative H2b (ng/ml) plasma</text><path d="M439.7 26.28H446.47" stroke="#0a0aff" stroke-width="0.8"/><rect x="441.78" y="25.08" width="2.6" height="2.4" fill="#0a0aff"/><text x="450.23" y="27.36" style="stroke:none" font-size="2.9">H2b</text><path d="M439.7 32.04H446.47" stroke="#000" stroke-width="0.8"/><circle cx="443.08" cy="32.04" r="1"/><text x="450.23" y="33.12" style="stroke:none" font-size="2.9">M6229</text><polyline fill="none" stroke="#000" stroke-width="0.85" points="380.55,82.17 380.9,72.29 381.55,66.38 383.06,52.09 385.06,47.08 385.81,59.36 387.07,68.88 389.07,82.17 400.6,82.17"/><circle cx="380.55" cy="82.17" r="1.35"/><circle cx="380.9" cy="72.29" r="1.35"/><circle cx="381.55" cy="66.38" r="1.35"/><circle cx="383.06" cy="52.09" r="1.35"/><circle cx="385.06" cy="47.08" r="1.35"/><circle cx="385.81" cy="59.36" r="1.35"/><circle cx="387.07" cy="68.88" r="1.35"/><circle cx="389.07" cy="82.17" r="1.35"/><circle cx="400.6" cy="82.17" r="1.35"/><path d="M420.15 58.61V40.06M419.25 40.06H421.05" stroke="#0a0aff" stroke-width="0.7"/><polyline fill="none" stroke="#0a0aff" stroke-width="0.85" points="380.55,77.66 385.81,59.36 389.07,48.08 400.6,57.11 420.15,58.61 439.95,62.37"/><rect x="379.2" y="76.31" width="2.7" height="2.7" rx="0.5" fill="#0a0aff"/><rect x="384.46" y="58.01" width="2.7" height="2.7" rx="0.5" fill="#0a0aff"/><rect x="387.72" y="46.73" width="2.7" height="2.7" rx="0.5" fill="#0a0aff"/><rect x="399.25" y="55.76" width="2.7" height="2.7" rx="0.5" fill="#0a0aff"/><rect x="418.8" y="57.26" width="2.7" height="2.7" rx="0.5" fill="#0a0aff"/><rect x="438.6" y="61.02" width="2.7" height="2.7" rx="0.5" fill="#0a0aff"/></g>
<g><path d="M490.5 37.06V81.5" stroke="#000" stroke-width="0.7"/><path d="M490.5 81.5H556.5" stroke="#000" stroke-width="0.7"/><path d="M556.5 37.06V81.5" stroke="#000" stroke-width="0.7"/><path d="M488.1 81.5H490.5M488.1 72.61H490.5M488.1 63.72H490.5M488.1 54.83H490.5M488.1 45.94H490.5M488.1 37.06H490.5" stroke="#000" stroke-width="0.7"/><text x="487.2" y="82.58" text-anchor="end">0</text><text x="487.2" y="73.69" text-anchor="end">5</text><text x="487.2" y="64.8" text-anchor="end">10</text><text x="487.2" y="55.91" text-anchor="end">15</text><text x="487.2" y="47.02" text-anchor="end">20</text><text x="487.2" y="38.14" text-anchor="end">25</text><text x="561" y="82.58">1000</text><text x="561" y="71.47">1200</text><text x="561" y="60.36">1400</text><text x="561" y="49.25">1600</text><text x="561" y="38.14">1800</text><path d="M556.5 81.5H558.9M556.5 70.39H558.9M556.5 59.28H558.9M556.5 48.17H558.9M556.5 37.06H558.9" stroke="#000" stroke-width="0.7"/><text x="490.5" y="88.58" text-anchor="middle">0</text><text x="507" y="88.58" text-anchor="middle">20</text><text x="523.5" y="88.58" text-anchor="middle">40</text><text x="540" y="88.58" text-anchor="middle">60</text><text x="556.5" y="88.58" text-anchor="middle">80</text><path d="M490.5 81.5V83.9M507 81.5V83.9M523.5 81.5V83.9M540 81.5V83.9M556.5 81.5V83.9" stroke="#000" stroke-width="0.7"/><text x="523.5" y="93.65" text-anchor="middle" font-size="2.8" textLength="10" lengthAdjust="spacingAndGlyphs" style="stroke-width:0.04px">Time (h)</text><text x="523.5" y="31.51" text-anchor="middle" font-weight="bold" font-size="3.4" textLength="33.6" lengthAdjust="spacingAndGlyphs" style="stroke-width:0.12px">K0-M6229 [AMC006]</text><text transform="translate(480.36 60.08) rotate(-90)" text-anchor="middle" y="0.9" font-size="2.6" fill="#444" style="stroke:#444;stroke-width:0.06px" textLength="31.3" lengthAdjust="spacingAndGlyphs">Plasma M6229 (μg/ml)</text><text transform="translate(573.37 60.08) rotate(90)" text-anchor="middle" y="0.9" font-size="2.6" fill="#444" style="stroke:#444;stroke-width:0.06px" textLength="38.7" lengthAdjust="spacingAndGlyphs">Relative H2b (ng/ml) plasma</text><path d="M548.96 25.53H556.48" stroke="#0a0aff" stroke-width="0.8"/><rect x="551.42" y="24.33" width="2.6" height="2.4" fill="#0a0aff"/><text x="560.24" y="26.61" style="stroke:none" font-size="2.9">H2b</text><path d="M548.96 31.79H556.48" stroke="#000" stroke-width="0.8"/><circle cx="552.72" cy="31.79" r="1"/><text x="560.24" y="32.87" style="stroke:none" font-size="2.9">M6229</text><polyline fill="none" stroke="#000" stroke-width="0.85" points="490.06,81.42 490.81,75.15 491.82,65.88 493.32,65.88 495.08,43.82 496.33,48.58 497.08,56.85 498.33,66.38 510.11,81.42"/><circle cx="490.06" cy="81.42" r="1.35"/><circle cx="490.81" cy="75.15" r="1.35"/><circle cx="491.82" cy="65.88" r="1.35"/><circle cx="493.32" cy="65.88" r="1.35"/><circle cx="495.08" cy="43.82" r="1.35"/><circle cx="496.33" cy="48.58" r="1.35"/><circle cx="497.08" cy="56.85" r="1.35"/><circle cx="498.33" cy="66.38" r="1.35"/><circle cx="510.11" cy="81.42" r="1.35"/><path d="M529.66 55.1V43.82M528.76 43.82H530.56" stroke="#0a0aff" stroke-width="0.7"/><polyline fill="none" stroke="#0a0aff" stroke-width="0.85" points="490.06,72.64 495.08,64.37 498.33,58.11 510.11,66.38 529.66,55.1 549.71,60.11"/><rect x="488.71" y="71.29" width="2.7" height="2.7" rx="0.5" fill="#0a0aff"/><rect x="493.73" y="63.02" width="2.7" height="2.7" rx="0.5" fill="#0a0aff"/><rect x="496.98" y="56.76" width="2.7" height="2.7" rx="0.5" fill="#0a0aff"/><rect x="508.76" y="65.03" width="2.7" height="2.7" rx="0.5" fill="#0a0aff"/><rect x="528.31" y="53.75" width="2.7" height="2.7" rx="0.5" fill="#0a0aff"/><rect x="548.36" y="58.76" width="2.7" height="2.7" rx="0.5" fill="#0a0aff"/></g>
<g><path d="M600.5 36.3V80" stroke="#000" stroke-width="0.7"/><path d="M600.5 80H666.5" stroke="#000" stroke-width="0.7"/><path d="M666.5 36.3V80" stroke="#000" stroke-width="0.7"/><path d="M598.1 80H600.5M598.1 71.26H600.5M598.1 62.52H600.5M598.1 53.78H600.5M598.1 45.04H600.5M598.1 36.3H600.5" stroke="#000" stroke-width="0.7"/><text x="597.2" y="81.08" text-anchor="end">0</text><text x="597.2" y="72.34" text-anchor="end">5</text><text x="597.2" y="63.6" text-anchor="end">10</text><text x="597.2" y="54.86" text-anchor="end">15</text><text x="597.2" y="46.12" text-anchor="end">20</text><text x="597.2" y="37.38" text-anchor="end">25</text><text x="671" y="81.08">850</text><text x="671" y="73.8">900</text><text x="671" y="66.51">950</text><text x="671" y="59.23">1000</text><text x="671" y="51.95">1050</text><text x="671" y="44.67">1100</text><text x="671" y="37.38">1150</text><path d="M666.5 80H668.9M666.5 72.72H668.9M666.5 65.43H668.9M666.5 58.15H668.9M666.5 50.87H668.9M666.5 43.59H668.9M666.5 36.3H668.9" stroke="#000" stroke-width="0.7"/><text x="600.5" y="87.08" text-anchor="middle">0</text><text x="617" y="87.08" text-anchor="middle">20</text><text x="633.5" y="87.08" text-anchor="middle">40</text><text x="650" y="87.08" text-anchor="middle">60</text><text x="666.5" y="87.08" text-anchor="middle">80</text><path d="M600.5 80V82.4M617 80V82.4M633.5 80V82.4M650 80V82.4M666.5 80V82.4" stroke="#000" stroke-width="0.7"/><text x="633.5" y="92.4" text-anchor="middle" font-size="2.8" textLength="10" lengthAdjust="spacingAndGlyphs" style="stroke-width:0.04px">Time (h)</text><text x="633.5" y="30.51" text-anchor="middle" font-weight="bold" font-size="3.4" textLength="33.6" lengthAdjust="spacingAndGlyphs" style="stroke-width:0.12px">K0-M6229 [AMC010]</text><text transform="translate(590.36 58.95) rotate(-90)" text-anchor="middle" y="0.9" font-size="2.6" fill="#444" style="stroke:#444;stroke-width:0.06px" textLength="31.3" lengthAdjust="spacingAndGlyphs">Plasma M6229 (μg/ml)</text><text transform="translate(683.37 58.95) rotate(90)" text-anchor="middle" y="0.9" font-size="2.6" fill="#444" style="stroke:#444;stroke-width:0.06px" textLength="38.7" lengthAdjust="spacingAndGlyphs">Relative H2b (ng/ml) plasma</text><path d="M658.93 24.27H666.45" stroke="#0a0aff" stroke-width="0.8"/><rect x="661.39" y="23.07" width="2.6" height="2.4" fill="#0a0aff"/><text x="670.21" y="25.35" style="stroke:none" font-size="2.9">H2b</text><path d="M658.93 30.04H666.45" stroke="#000" stroke-width="0.8"/><circle cx="662.69" cy="30.04" r="1"/><text x="670.21" y="31.12" style="stroke:none" font-size="2.9">M6229</text><polyline fill="none" stroke="#000" stroke-width="0.85" points="600.54,75.15 601.04,72.64 602.54,49.34 605.05,38.06 606.05,50.84 607.06,63.12 608.31,70.64 620.09,74.4"/><circle cx="600.54" cy="75.15" r="1.35"/><circle cx="601.04" cy="72.64" r="1.35"/><circle cx="602.54" cy="49.34" r="1.35"/><circle cx="605.05" cy="38.06" r="1.35"/><circle cx="606.05" cy="50.84" r="1.35"/><circle cx="607.06" cy="63.12" r="1.35"/><circle cx="608.31" cy="70.64" r="1.35"/><circle cx="620.09" cy="74.4" r="1.35"/><polyline fill="none" stroke="#0a0aff" stroke-width="0.85" points="600.54,61.37 605.05,42.07 608.31,55.85 620.59,71.39 639.64,71.39 659.44,55.6"/><rect x="599.19" y="60.02" width="2.7" height="2.7" rx="0.5" fill="#0a0aff"/><rect x="603.7" y="40.72" width="2.7" height="2.7" rx="0.5" fill="#0a0aff"/><rect x="606.96" y="54.5" width="2.7" height="2.7" rx="0.5" fill="#0a0aff"/><rect x="619.24" y="70.04" width="2.7" height="2.7" rx="0.5" fill="#0a0aff"/><rect x="638.29" y="70.04" width="2.7" height="2.7" rx="0.5" fill="#0a0aff"/><rect x="658.09" y="54.25" width="2.7" height="2.7" rx="0.5" fill="#0a0aff"/></g>
<g><path d="M381 115.79V159.5" stroke="#000" stroke-width="0.7"/><path d="M381 159.5H446.5" stroke="#000" stroke-width="0.7"/><path d="M446.5 115.79V159.5" stroke="#000" stroke-width="0.7"/><path d="M378.6 159.5H381M378.6 150.76H381M378.6 142.02H381M378.6 133.27H381M378.6 124.53H381M378.6 115.79H381" stroke="#000" stroke-width="0.7"/><text x="377.7" y="160.58" text-anchor="end">0.0</text><text x="377.7" y="151.84" text-anchor="end">0.5</text><text x="377.7" y="143.1" text-anchor="end">1.0</text><text x="377.7" y="134.35" text-anchor="end">1.5</text><text x="377.7" y="125.61" text-anchor="end">2.0</text><text x="377.7" y="116.87" text-anchor="end">2.5</text><text x="451" y="160.58">900</text><text x="451" y="146.01">950</text><text x="451" y="131.44">1000</text><text x="451" y="116.87">1050</text><path d="M446.5 159.5H448.9M446.5 144.93H448.9M446.5 130.36H448.9M446.5 115.79H448.9" stroke="#000" stroke-width="0.7"/><text x="381" y="166.58" text-anchor="middle">0</text><text x="397.38" y="166.58" text-anchor="middle">20</text><text x="413.75" y="166.58" text-anchor="middle">40</text><text x="430.12" y="166.58" text-anchor="middle">60</text><text x="446.5" y="166.58" text-anchor="middle">80</text><path d="M381 159.5V161.9M397.38 159.5V161.9M413.75 159.5V161.9M430.12 159.5V161.9M446.5 159.5V161.9" stroke="#000" stroke-width="0.7"/><text x="413.75" y="172.38" text-anchor="middle" font-size="2.8" textLength="10" lengthAdjust="spacingAndGlyphs" style="stroke-width:0.04px">Time (h)</text><text x="413.75" y="110" text-anchor="middle" font-weight="bold" font-size="3.4" textLength="33.6" lengthAdjust="spacingAndGlyphs" style="stroke-width:0.12px">K0-M6229 [AMC003]</text><text transform="translate(370.03 138.44) rotate(-90)" text-anchor="middle" y="0.9" font-size="2.6" fill="#444" style="stroke:#444;stroke-width:0.06px" textLength="31.3" lengthAdjust="spacingAndGlyphs">Plasma M6229 (μg/ml)</text><text transform="translate(463.37 138.44) rotate(90)" text-anchor="middle" y="0.9" font-size="2.6" fill="#444" style="stroke:#444;stroke-width:0.06px" textLength="38.7" lengthAdjust="spacingAndGlyphs">Relative H2b (ng/ml) plasma</text><path d="M438.2 104.26H445.71" stroke="#0a0aff" stroke-width="0.8"/><rect x="440.65" y="103.06" width="2.6" height="2.4" fill="#0a0aff"/><text x="449.72" y="105.34" style="stroke:none" font-size="2.9">H2b</text><path d="M438.2 110.03H445.71" stroke="#000" stroke-width="0.8"/><circle cx="441.95" cy="110.03" r="1"/><text x="449.72" y="111.11" style="stroke:none" font-size="2.9">M6229</text><polyline fill="none" stroke="#000" stroke-width="0.85" points="380.55,159.65 383.31,124.56 385.31,122.06 386.32,159.65 387.57,159.65 389.07,159.65 400.6,159.65"/><circle cx="380.55" cy="159.65" r="1.35"/><circle cx="383.31" cy="124.56" r="1.35"/><circle cx="385.31" cy="122.06" r="1.35"/><circle cx="386.32" cy="159.65" r="1.35"/><circle cx="387.57" cy="159.65" r="1.35"/><circle cx="389.07" cy="159.65" r="1.35"/><circle cx="400.6" cy="159.65" r="1.35"/><polyline fill="none" stroke="#0a0aff" stroke-width="0.85" points="380.55,155.14 385.31,131.33 389.07,142.11 400.6,135.59 420.15,147.12 440.2,119.55"/><rect x="379.2" y="153.79" width="2.7" height="2.7" rx="0.5" fill="#0a0aff"/><rect x="383.96" y="129.98" width="2.7" height="2.7" rx="0.5" fill="#0a0aff"/><rect x="387.72" y="140.76" width="2.7" height="2.7" rx="0.5" fill="#0a0aff"/><rect x="399.25" y="134.24" width="2.7" height="2.7" rx="0.5" fill="#0a0aff"/><rect x="418.8" y="145.77" width="2.7" height="2.7" rx="0.5" fill="#0a0aff"/><rect x="438.85" y="118.2" width="2.7" height="2.7" rx="0.5" fill="#0a0aff"/></g>
<g><path d="M490.5 115.54V159.5" stroke="#000" stroke-width="0.7"/><path d="M490.5 159.5H556.5" stroke="#000" stroke-width="0.7"/><path d="M556.5 115.54V159.5" stroke="#000" stroke-width="0.7"/><path d="M488.1 159.5H490.5M488.1 148.51H490.5M488.1 137.52H490.5M488.1 126.53H490.5M488.1 115.54H490.5" stroke="#000" stroke-width="0.7"/><text x="487.2" y="160.58" text-anchor="end">0</text><text x="487.2" y="149.59" text-anchor="end">2</text><text x="487.2" y="138.6" text-anchor="end">4</text><text x="487.2" y="127.61" text-anchor="end">6</text><text x="487.2" y="116.62" text-anchor="end">8</text><text x="561" y="160.58">0</text><text x="561" y="145.93">1000</text><text x="561" y="131.27">2000</text><text x="561" y="116.62">3000</text><path d="M556.5 159.5H558.9M556.5 144.85H558.9M556.5 130.19H558.9M556.5 115.54H558.9" stroke="#000" stroke-width="0.7"/><text x="490.5" y="166.58" text-anchor="middle">0</text><text x="507" y="166.58" text-anchor="middle">20</text><text x="523.5" y="166.58" text-anchor="middle">40</text><text x="540" y="166.58" text-anchor="middle">60</text><text x="556.5" y="166.58" text-anchor="middle">80</text><path d="M490.5 159.5V161.9M507 159.5V161.9M523.5 159.5V161.9M540 159.5V161.9M556.5 159.5V161.9" stroke="#000" stroke-width="0.7"/><text x="523.5" y="171.88" text-anchor="middle" font-size="2.8" textLength="10" lengthAdjust="spacingAndGlyphs" style="stroke-width:0.04px">Time (h)</text><text x="523.5" y="109.49" text-anchor="middle" font-weight="bold" font-size="3.4" textLength="33.6" lengthAdjust="spacingAndGlyphs" style="stroke-width:0.12px">K0-M6229 [AMC007]</text><text transform="translate(482.03 138.32) rotate(-90)" text-anchor="middle" y="0.9" font-size="2.6" fill="#444" style="stroke:#444;stroke-width:0.06px" textLength="31.3" lengthAdjust="spacingAndGlyphs">Plasma M6229 (μg/ml)</text><text transform="translate(573.37 138.32) rotate(90)" text-anchor="middle" y="0.9" font-size="2.6" fill="#444" style="stroke:#444;stroke-width:0.06px" textLength="38.7" lengthAdjust="spacingAndGlyphs">Relative H2b (ng/ml) plasma</text><path d="M548.96 103.76H556.48" stroke="#0a0aff" stroke-width="0.8"/><rect x="551.42" y="102.56" width="2.6" height="2.4" fill="#0a0aff"/><text x="560.24" y="104.84" style="stroke:none" font-size="2.9">H2b</text><path d="M548.96 109.52H556.48" stroke="#000" stroke-width="0.8"/><circle cx="552.72" cy="109.52" r="1"/><text x="560.24" y="110.6" style="stroke:none" font-size="2.9">M6229</text><polyline fill="none" stroke="#000" stroke-width="0.85" points="490.06,145.11 490.81,143.11 492.57,141.35 495.08,141.85 496.08,130.83 496.83,124.31 498.83,119.3 510.36,122.06"/><circle cx="490.06" cy="145.11" r="1.35"/><circle cx="490.81" cy="143.11" r="1.35"/><circle cx="492.57" cy="141.35" r="1.35"/><circle cx="495.08" cy="141.85" r="1.35"/><circle cx="496.08" cy="130.83" r="1.35"/><circle cx="496.83" cy="124.31" r="1.35"/><circle cx="498.83" cy="119.3" r="1.35"/><circle cx="510.36" cy="122.06" r="1.35"/><polyline fill="none" stroke="#0a0aff" stroke-width="0.85" points="490.06,135.09 495.33,121.8 498.33,144.36 510.36,133.83 529.91,129.57 549.96,141.35"/><rect x="488.71" y="133.74" width="2.7" height="2.7" rx="0.5" fill="#0a0aff"/><rect x="493.98" y="120.45" width="2.7" height="2.7" rx="0.5" fill="#0a0aff"/><rect x="496.98" y="143.01" width="2.7" height="2.7" rx="0.5" fill="#0a0aff"/><rect x="509.01" y="132.48" width="2.7" height="2.7" rx="0.5" fill="#0a0aff"/><rect x="528.56" y="128.22" width="2.7" height="2.7" rx="0.5" fill="#0a0aff"/><rect x="548.61" y="140" width="2.7" height="2.7" rx="0.5" fill="#0a0aff"/></g>
<g><path d="M600.5 116.29V160.5" stroke="#000" stroke-width="0.7"/><path d="M600.5 160.5H666.5" stroke="#000" stroke-width="0.7"/><path d="M666.5 116.29V160.5" stroke="#000" stroke-width="0.7"/><path d="M598.1 160.5H600.5M598.1 149.45H600.5M598.1 138.4H600.5M598.1 127.34H600.5M598.1 116.29H600.5" stroke="#000" stroke-width="0.7"/><text x="597.2" y="161.58" text-anchor="end">0</text><text x="597.2" y="150.53" text-anchor="end">10</text><text x="597.2" y="139.48" text-anchor="end">20</text><text x="597.2" y="128.42" text-anchor="end">30</text><text x="597.2" y="117.37" text-anchor="end">40</text><text x="671" y="161.58">0</text><text x="671" y="150.53">1000</text><text x="671" y="139.48">2000</text><text x="671" y="128.42">3000</text><text x="671" y="117.37">4000</text><path d="M666.5 160.5H668.9M666.5 149.45H668.9M666.5 138.4H668.9M666.5 127.34H668.9M666.5 116.29H668.9" stroke="#000" stroke-width="0.7"/><text x="600.5" y="167.58" text-anchor="middle">0</text><text x="617" y="167.58" text-anchor="middle">20</text><text x="633.5" y="167.58" text-anchor="middle">40</text><text x="650" y="167.58" text-anchor="middle">60</text><text x="666.5" y="167.58" text-anchor="middle">80</text><path d="M600.5 160.5V162.9M617 160.5V162.9M633.5 160.5V162.9M650 160.5V162.9M666.5 160.5V162.9" stroke="#000" stroke-width="0.7"/><text x="633.5" y="173.14" text-anchor="middle" font-size="2.8" textLength="10" lengthAdjust="spacingAndGlyphs" style="stroke-width:0.04px">Time (h)</text><text x="633.5" y="110.75" text-anchor="middle" font-weight="bold" font-size="3.4" textLength="33.6" lengthAdjust="spacingAndGlyphs" style="stroke-width:0.12px">K0-M6229 [AMC011]</text><text transform="translate(590.36 139.2) rotate(-90)" text-anchor="middle" y="0.9" font-size="2.6" fill="#444" style="stroke:#444;stroke-width:0.06px" textLength="31.3" lengthAdjust="spacingAndGlyphs">Plasma M6229 (μg/ml)</text><text transform="translate(683.37 139.2) rotate(90)" text-anchor="middle" y="0.9" font-size="2.6" fill="#444" style="stroke:#444;stroke-width:0.06px" textLength="38.7" lengthAdjust="spacingAndGlyphs">Relative H2b (ng/ml) plasma</text><path d="M658.93 104.26H666.45" stroke="#0a0aff" stroke-width="0.8"/><rect x="661.39" y="103.06" width="2.6" height="2.4" fill="#0a0aff"/><text x="670.21" y="105.34" style="stroke:none" font-size="2.9">H2b</text><path d="M658.93 110.53H666.45" stroke="#000" stroke-width="0.8"/><circle cx="662.69" cy="110.53" r="1"/><text x="670.21" y="111.61" style="stroke:none" font-size="2.9">M6229</text><polyline fill="none" stroke="#000" stroke-width="0.85" points="600.54,159.4 601.04,155.14 601.54,146.37 602.54,132.58 605.05,121.3 606.05,123.06 607.06,126.82 608.31,133.33 620.09,148.37"/><circle cx="600.54" cy="159.4" r="1.35"/><circle cx="601.04" cy="155.14" r="1.35"/><circle cx="601.54" cy="146.37" r="1.35"/><circle cx="602.54" cy="132.58" r="1.35"/><circle cx="605.05" cy="121.3" r="1.35"/><circle cx="606.05" cy="123.06" r="1.35"/><circle cx="607.06" cy="126.82" r="1.35"/><circle cx="608.31" cy="133.33" r="1.35"/><circle cx="620.09" cy="148.37" r="1.35"/><polyline fill="none" stroke="#0a0aff" stroke-width="0.85" points="600.54,141.35 605.05,147.12 608.31,136.34 620.09,143.86 639.64,126.32 659.69,135.09"/><rect x="599.19" y="140" width="2.7" height="2.7" rx="0.5" fill="#0a0aff"/><rect x="603.7" y="145.77" width="2.7" height="2.7" rx="0.5" fill="#0a0aff"/><rect x="606.96" y="134.99" width="2.7" height="2.7" rx="0.5" fill="#0a0aff"/><rect x="618.74" y="142.51" width="2.7" height="2.7" rx="0.5" fill="#0a0aff"/><rect x="638.29" y="124.97" width="2.7" height="2.7" rx="0.5" fill="#0a0aff"/><rect x="658.34" y="133.74" width="2.7" height="2.7" rx="0.5" fill="#0a0aff"/></g>
<g><path d="M380.5 201.29V245" stroke="#000" stroke-width="0.7"/><path d="M380.5 245H446.5" stroke="#000" stroke-width="0.7"/><path d="M446.5 201.29V245" stroke="#000" stroke-width="0.7"/><path d="M378.1 245H380.5M378.1 234.07H380.5M378.1 223.15H380.5M378.1 212.22H380.5M378.1 201.29H380.5" stroke="#000" stroke-width="0.7"/><text x="377.2" y="246.08" text-anchor="end">0</text><text x="377.2" y="235.15" text-anchor="end">2</text><text x="377.2" y="224.23" text-anchor="end">4</text><text x="377.2" y="213.3" text-anchor="end">6</text><text x="377.2" y="202.37" text-anchor="end">8</text><text x="451" y="246.08">0</text><text x="451" y="237.34">1000</text><text x="451" y="228.6">2000</text><text x="451" y="219.85">3000</text><text x="451" y="211.11">4000</text><text x="451" y="202.37">5000</text><path d="M446.5 245H448.9M446.5 236.26H448.9M446.5 227.52H448.9M446.5 218.77H448.9M446.5 210.03H448.9M446.5 201.29H448.9" stroke="#000" stroke-width="0.7"/><text x="380.5" y="252.08" text-anchor="middle">0</text><text x="397" y="252.08" text-anchor="middle">20</text><text x="413.5" y="252.08" text-anchor="middle">40</text><text x="430" y="252.08" text-anchor="middle">60</text><text x="446.5" y="252.08" text-anchor="middle">80</text><path d="M380.5 245V247.4M397 245V247.4M413.5 245V247.4M430 245V247.4M446.5 245V247.4" stroke="#000" stroke-width="0.7"/><text x="413.5" y="257.38" text-anchor="middle" font-size="2.8" textLength="10" lengthAdjust="spacingAndGlyphs" style="stroke-width:0.04px">Time (h)</text><text x="413.5" y="195" text-anchor="middle" font-weight="bold" font-size="3.4" textLength="33.6" lengthAdjust="spacingAndGlyphs" style="stroke-width:0.12px">K0-M6229 [AMC004]</text><text transform="translate(372.03 223.95) rotate(-90)" text-anchor="middle" y="0.9" font-size="2.6" fill="#444" style="stroke:#444;stroke-width:0.06px" textLength="31.3" lengthAdjust="spacingAndGlyphs">Plasma M6229 (μg/ml)</text><text transform="translate(463.37 223.95) rotate(90)" text-anchor="middle" y="0.9" font-size="2.6" fill="#444" style="stroke:#444;stroke-width:0.06px" textLength="38.7" lengthAdjust="spacingAndGlyphs">Relative H2b (ng/ml) plasma</text><path d="M439.7 188.76H446.97" stroke="#0a0aff" stroke-width="0.8"/><rect x="442.03" y="187.56" width="2.6" height="2.4" fill="#0a0aff"/><text x="451.23" y="189.84" style="stroke:none" font-size="2.9">H2b</text><path d="M439.7 195.03H446.97" stroke="#000" stroke-width="0.8"/><circle cx="443.33" cy="195.03" r="1"/><text x="451.23" y="196.11" style="stroke:none" font-size="2.9">M6229</text><polyline fill="none" stroke="#000" stroke-width="0.85" points="380.55,245.15 381.8,232.62 383.31,219.59 385.31,206.3 386.32,226.35 387.07,232.62 389.07,245.15 400.6,245.15"/><circle cx="380.55" cy="245.15" r="1.35"/><circle cx="381.8" cy="232.62" r="1.35"/><circle cx="383.31" cy="219.59" r="1.35"/><circle cx="385.31" cy="206.3" r="1.35"/><circle cx="386.32" cy="226.35" r="1.35"/><circle cx="387.07" cy="232.62" r="1.35"/><circle cx="389.07" cy="245.15" r="1.35"/><circle cx="400.6" cy="245.15" r="1.35"/><polyline fill="none" stroke="#0a0aff" stroke-width="0.85" points="380.55,218.08 385.81,208.81 389.07,204.8 400.6,234.87 420.15,232.62 440.2,225.1"/><rect x="379.2" y="216.73" width="2.7" height="2.7" rx="0.5" fill="#0a0aff"/><rect x="384.46" y="207.46" width="2.7" height="2.7" rx="0.5" fill="#0a0aff"/><rect x="387.72" y="203.45" width="2.7" height="2.7" rx="0.5" fill="#0a0aff"/><rect x="399.25" y="233.52" width="2.7" height="2.7" rx="0.5" fill="#0a0aff"/><rect x="418.8" y="231.27" width="2.7" height="2.7" rx="0.5" fill="#0a0aff"/><rect x="438.85" y="223.75" width="2.7" height="2.7" rx="0.5" fill="#0a0aff"/></g>
<g><path d="M490.5 200.79V245" stroke="#000" stroke-width="0.7"/><path d="M490.5 245H557" stroke="#000" stroke-width="0.7"/><path d="M557 200.79V245" stroke="#000" stroke-width="0.7"/><path d="M488.1 245H490.5M488.1 236.16H490.5M488.1 227.32H490.5M488.1 218.47H490.5M488.1 209.63H490.5M488.1 200.79H490.5" stroke="#000" stroke-width="0.7"/><text x="487.2" y="246.08" text-anchor="end">0</text><text x="487.2" y="237.24" text-anchor="end">5</text><text x="487.2" y="228.4" text-anchor="end">10</text><text x="487.2" y="219.55" text-anchor="end">15</text><text x="487.2" y="210.71" text-anchor="end">20</text><text x="487.2" y="201.87" text-anchor="end">25</text><text x="561.5" y="246.08">900</text><text x="561.5" y="238.71">920</text><text x="561.5" y="231.34">940</text><text x="561.5" y="223.97">960</text><text x="561.5" y="216.61">980</text><text x="561.5" y="209.24">1000</text><text x="561.5" y="201.87">1020</text><path d="M557 245H559.4M557 237.63H559.4M557 230.26H559.4M557 222.89H559.4M557 215.53H559.4M557 208.16H559.4M557 200.79H559.4" stroke="#000" stroke-width="0.7"/><text x="490.5" y="252.08" text-anchor="middle">0</text><text x="512.67" y="252.08" text-anchor="middle">10</text><text x="534.83" y="252.08" text-anchor="middle">20</text><text x="557" y="252.08" text-anchor="middle">30</text><path d="M490.5 245V247.4M512.67 245V247.4M534.83 245V247.4M557 245V247.4" stroke="#000" stroke-width="0.7"/><text x="523.75" y="257.88" text-anchor="middle" font-size="2.8" textLength="10" lengthAdjust="spacingAndGlyphs" style="stroke-width:0.04px">Time (h)</text><text x="523.75" y="195" text-anchor="middle" font-weight="bold" font-size="3.4" textLength="33.6" lengthAdjust="spacingAndGlyphs" style="stroke-width:0.12px">K0-M6229 [AMC008]</text><text transform="translate(480.36 223.69) rotate(-90)" text-anchor="middle" y="0.9" font-size="2.6" fill="#444" style="stroke:#444;stroke-width:0.06px" textLength="31.3" lengthAdjust="spacingAndGlyphs">Plasma M6229 (μg/ml)</text><text transform="translate(573.87 223.69) rotate(90)" text-anchor="middle" y="0.9" font-size="2.6" fill="#444" style="stroke:#444;stroke-width:0.06px" textLength="38.7" lengthAdjust="spacingAndGlyphs">Relative H2b (ng/ml) plasma</text><path d="M550.21 189.26H557.23" stroke="#0a0aff" stroke-width="0.8"/><rect x="552.42" y="188.06" width="2.6" height="2.4" fill="#0a0aff"/><text x="560.99" y="190.34" style="stroke:none" font-size="2.9">H2b</text><path d="M550.21 195.03H557.23" stroke="#000" stroke-width="0.8"/><circle cx="553.72" cy="195.03" r="1"/><text x="560.99" y="196.11" style="stroke:none" font-size="2.9">M6229</text><polyline fill="none" stroke="#000" stroke-width="0.85" points="490.81,245.15 491.57,239.64 493.57,229.11 497.58,229.11 504.1,208.81 506.35,217.58 508.61,222.59 513.12,232.62 544.2,245.15"/><circle cx="490.81" cy="245.15" r="1.35"/><circle cx="491.57" cy="239.64" r="1.35"/><circle cx="493.57" cy="229.11" r="1.35"/><circle cx="497.58" cy="229.11" r="1.35"/><circle cx="504.1" cy="208.81" r="1.35"/><circle cx="506.35" cy="217.58" r="1.35"/><circle cx="508.61" cy="222.59" r="1.35"/><circle cx="513.12" cy="232.62" r="1.35"/><circle cx="544.2" cy="245.15" r="1.35"/><path d="M513.12 215.08V208.06M512.22 208.06H514.02" stroke="#0a0aff" stroke-width="0.7"/><polyline fill="none" stroke="#0a0aff" stroke-width="0.85" points="490.81,234.62 504.1,207.06 513.12,215.08 544.2,240.14"/><rect x="489.46" y="233.27" width="2.7" height="2.7" rx="0.5" fill="#0a0aff"/><rect x="502.75" y="205.71" width="2.7" height="2.7" rx="0.5" fill="#0a0aff"/><rect x="511.77" y="213.73" width="2.7" height="2.7" rx="0.5" fill="#0a0aff"/><rect x="542.85" y="238.79" width="2.7" height="2.7" rx="0.5" fill="#0a0aff"/></g>
<g><path d="M380.5 280.99V325.5" stroke="#000" stroke-width="0.7"/><path d="M380.5 325.5H446.5" stroke="#000" stroke-width="0.7"/><path d="M446.5 280.99V325.5" stroke="#000" stroke-width="0.7"/><path d="M378.1 325.5H380.5M378.1 316.6H380.5M378.1 307.7H380.5M378.1 298.79H380.5M378.1 289.89H380.5M378.1 280.99H380.5" stroke="#000" stroke-width="0.7"/><text x="377.2" y="326.58" text-anchor="end">0</text><text x="377.2" y="317.68" text-anchor="end">2</text><text x="377.2" y="308.78" text-anchor="end">4</text><text x="377.2" y="299.87" text-anchor="end">6</text><text x="377.2" y="290.97" text-anchor="end">8</text><text x="377.2" y="282.07" text-anchor="end">10</text><text x="451" y="326.58">0</text><text x="451" y="311.74">500</text><text x="451" y="296.91">1000</text><text x="451" y="282.07">1500</text><path d="M446.5 325.5H448.9M446.5 310.66H448.9M446.5 295.83H448.9M446.5 280.99H448.9" stroke="#000" stroke-width="0.7"/><text x="380.5" y="332.58" text-anchor="middle">0</text><text x="402.5" y="332.58" text-anchor="middle">5</text><text x="424.5" y="332.58" text-anchor="middle">10</text><text x="446.5" y="332.58" text-anchor="middle">15</text><path d="M380.5 325.5V327.9M402.5 325.5V327.9M424.5 325.5V327.9M446.5 325.5V327.9" stroke="#000" stroke-width="0.7"/><text x="413.5" y="338.15" text-anchor="middle" font-size="2.8" textLength="10" lengthAdjust="spacingAndGlyphs" style="stroke-width:0.04px">Time (h)</text><text x="413.5" y="276.4" text-anchor="middle" font-weight="bold" font-size="3.4" textLength="33.6" lengthAdjust="spacingAndGlyphs" style="stroke-width:0.12px">K0-M6229 [AMC005]</text><text transform="translate(370.36 304.05) rotate(-90)" text-anchor="middle" y="0.9" font-size="2.6" fill="#444" style="stroke:#444;stroke-width:0.06px" textLength="31.3" lengthAdjust="spacingAndGlyphs">Plasma M6229 (μg/ml)</text><text transform="translate(463.37 304.05) rotate(90)" text-anchor="middle" y="0.9" font-size="2.6" fill="#444" style="stroke:#444;stroke-width:0.06px" textLength="38.7" lengthAdjust="spacingAndGlyphs">Relative H2b (ng/ml) plasma</text><path d="M438.71 269.85H446.14" stroke="#0a0aff" stroke-width="0.8"/><rect x="441.13" y="268.65" width="2.6" height="2.4" fill="#0a0aff"/><text x="450.59" y="270.93" style="stroke:none" font-size="2.9">H2b</text><path d="M438.71 276.04H446.14" stroke="#000" stroke-width="0.8"/><circle cx="442.43" cy="276.04" r="1"/><text x="450.59" y="277.12" style="stroke:none" font-size="2.9">M6229</text><polyline fill="none" stroke="#000" stroke-width="0.85" points="380.3,325.54 381.53,325.54 384.75,315.15 393.42,298.07 406.78,285.94 410.99,302.77 415.45,310.2 424.36,320.59"/><circle cx="380.3" cy="325.54" r="1.35"/><circle cx="381.53" cy="325.54" r="1.35"/><circle cx="384.75" cy="315.15" r="1.35"/><circle cx="393.42" cy="298.07" r="1.35"/><circle cx="406.78" cy="285.94" r="1.35"/><circle cx="410.99" cy="302.77" r="1.35"/><circle cx="415.45" cy="310.2" r="1.35"/><circle cx="424.36" cy="320.59" r="1.35"/><polyline fill="none" stroke="#0a0aff" stroke-width="0.85" points="380.3,318.12 406.78,287.92 424.36,307.48"/><rect x="378.95" y="316.77" width="2.7" height="2.7" rx="0.5" fill="#0a0aff"/><rect x="405.43" y="286.57" width="2.7" height="2.7" rx="0.5" fill="#0a0aff"/><rect x="423.01" y="306.13" width="2.7" height="2.7" rx="0.5" fill="#0a0aff"/></g>
<g><path d="M490.5 280.5V324.5" stroke="#000" stroke-width="0.7"/><path d="M490.5 324.5H557" stroke="#000" stroke-width="0.7"/><path d="M557 280.5V324.5" stroke="#000" stroke-width="0.7"/><path d="M488.1 324.5H490.5M488.1 313.5H490.5M488.1 302.5H490.5M488.1 291.5H490.5M488.1 280.5H490.5" stroke="#000" stroke-width="0.7"/><text x="487.2" y="325.58" text-anchor="end">0</text><text x="487.2" y="314.58" text-anchor="end">5</text><text x="487.2" y="303.58" text-anchor="end">10</text><text x="487.2" y="292.58" text-anchor="end">15</text><text x="487.2" y="281.58" text-anchor="end">20</text><text x="561.5" y="325.58">0</text><text x="561.5" y="314.58">500</text><text x="561.5" y="303.58">1000</text><text x="561.5" y="292.58">1500</text><text x="561.5" y="281.58">2000</text><path d="M557 324.5H559.4M557 313.5H559.4M557 302.5H559.4M557 291.5H559.4M557 280.5H559.4" stroke="#000" stroke-width="0.7"/><text x="490.5" y="331.58" text-anchor="middle">0</text><text x="507.12" y="331.58" text-anchor="middle">20</text><text x="523.75" y="331.58" text-anchor="middle">40</text><text x="540.38" y="331.58" text-anchor="middle">60</text><text x="557" y="331.58" text-anchor="middle">80</text><path d="M490.5 324.5V326.9M507.12 324.5V326.9M523.75 324.5V326.9M540.38 324.5V326.9M557 324.5V326.9" stroke="#000" stroke-width="0.7"/><text x="523.75" y="336.91" text-anchor="middle" font-size="2.8" textLength="10" lengthAdjust="spacingAndGlyphs" style="stroke-width:0.04px">Time (h)</text><text x="523.75" y="274.79" text-anchor="middle" font-weight="bold" font-size="3.4" textLength="33.6" lengthAdjust="spacingAndGlyphs" style="stroke-width:0.12px">K0-M6229 [AMC009]</text><text transform="translate(480.36 303.3) rotate(-90)" text-anchor="middle" y="0.9" font-size="2.6" fill="#444" style="stroke:#444;stroke-width:0.06px" textLength="31.3" lengthAdjust="spacingAndGlyphs">Plasma M6229 (μg/ml)</text><text transform="translate(573.87 303.3) rotate(90)" text-anchor="middle" y="0.9" font-size="2.6" fill="#444" style="stroke:#444;stroke-width:0.06px" textLength="38.7" lengthAdjust="spacingAndGlyphs">Relative H2b (ng/ml) plasma</text><path d="M550.4 269.11H557.08" stroke="#0a0aff" stroke-width="0.8"/><rect x="552.44" y="267.91" width="2.6" height="2.4" fill="#0a0aff"/><text x="560.79" y="270.19" style="stroke:none" font-size="2.9">H2b</text><path d="M550.4 274.8H557.08" stroke="#000" stroke-width="0.8"/><circle cx="553.74" cy="274.8" r="1"/><text x="560.79" y="275.88" style="stroke:none" font-size="2.9">M6229</text><polyline fill="none" stroke="#000" stroke-width="0.85" points="490.99,324.8 491.49,319.36 491.98,306.24 493.47,287.18 495.94,282.72 496.68,292.13 497.67,301.53 499.41,311.44 510.79,324.8"/><circle cx="490.99" cy="324.8" r="1.35"/><circle cx="491.49" cy="319.36" r="1.35"/><circle cx="491.98" cy="306.24" r="1.35"/><circle cx="493.47" cy="287.18" r="1.35"/><circle cx="495.94" cy="282.72" r="1.35"/><circle cx="496.68" cy="292.13" r="1.35"/><circle cx="497.67" cy="301.53" r="1.35"/><circle cx="499.41" cy="311.44" r="1.35"/><circle cx="510.79" cy="324.8" r="1.35"/><polyline fill="none" stroke="#0a0aff" stroke-width="0.85" points="490.99,302.52 495.94,286.68 499.41,286.19 510.79,304.5 530.59,299.06 550.4,298.56"/><rect x="489.64" y="301.17" width="2.7" height="2.7" rx="0.5" fill="#0a0aff"/><rect x="494.59" y="285.33" width="2.7" height="2.7" rx="0.5" fill="#0a0aff"/><rect x="498.06" y="284.84" width="2.7" height="2.7" rx="0.5" fill="#0a0aff"/><rect x="509.44" y="303.15" width="2.7" height="2.7" rx="0.5" fill="#0a0aff"/><rect x="529.24" y="297.71" width="2.7" height="2.7" rx="0.5" fill="#0a0aff"/><rect x="549.05" y="297.21" width="2.7" height="2.7" rx="0.5" fill="#0a0aff"/></g></svg>
</body></html>
